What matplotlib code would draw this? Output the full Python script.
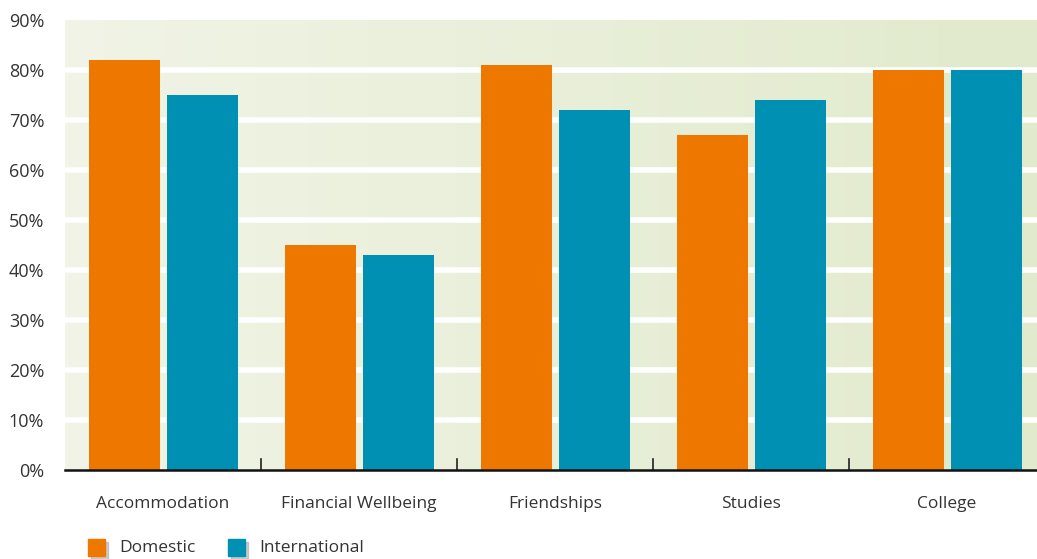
import matplotlib.pyplot as plt
import matplotlib.patches as mpatches
import numpy as np

categories = ['Accommodation', 'Financial Wellbeing', 'Friendships', 'Studies', 'College']
domestic = [82, 45, 81, 67, 80]
international = [75, 43, 72, 74, 80]
yticks = [0, 10, 20, 30, 40, 50, 60, 70, 80, 90]

orange = '#EE7700'
teal = '#0090B4'
text_col = '#333333'

plt.rcParams['font.family'] = ['Open Sans', 'DejaVu Sans']

W, H = 1037, 559
fig = plt.figure(figsize=(W / 100, H / 100), dpi=100)
ax = fig.add_axes([65 / W, (H - 470) / H, (1037 - 65) / W, 450 / H])

# gradient background
grad = np.linspace(0, 1, 256).reshape(1, -1)
c0 = np.array([0xF1, 0xF4, 0xE6]) / 255
c1 = np.array([0xE1, 0xEA, 0xCC]) / 255
img = c0[None, None, :] * (1 - grad[..., None]) + c1[None, None, :] * grad[..., None]
ax.imshow(img, extent=[0, 1, 0, 1], transform=ax.transAxes, aspect='auto', zorder=0)

x = np.arange(len(categories))
width = 0.362
off = 0.199
ax.bar(x - off + 0.004, domestic, width, color=orange, zorder=3, label='Domestic')
ax.bar(x + off + 0.004, international, width, color=teal, zorder=3, label='International')

for v in yticks[1:-1]:
    ax.axhline(v, color='white', lw=4, zorder=1)

ax.set_xlim(-0.5, 4.46)
ax.set_ylim(0, 90)
ax.set_yticks(yticks)
ax.set_yticklabels([f'{v}%' for v in yticks], fontsize=13, color=text_col)
ax.tick_params(axis='y', length=0, pad=15)

ax.set_xticks(x)
ax.set_xticklabels(categories, fontsize=12.5, color=text_col)
ax.tick_params(axis='x', length=0, pad=19)
for b in x[:-1] + 0.5:
    ax.plot([b, b], [0, 2.2], color='#222222', lw=1.2, zorder=4, clip_on=False)

for s in ['top', 'right', 'left']:
    ax.spines[s].set_visible(False)
ax.spines['bottom'].set_color('#111111')
ax.spines['bottom'].set_linewidth(1.8)
ax.spines['bottom'].set_zorder(5)

# legend with shadowed squares
def legend_item(px, label, color):
    sx, sy, sz = px, 539, 17
    fig.patches.append(mpatches.Rectangle(((sx + 3) / W, (H - sy - sz - 3) / H), sz / W, sz / H,
                                          transform=fig.transFigure, color='#AAAAAA', alpha=0.6))
    fig.patches.append(mpatches.Rectangle((sx / W, (H - sy - sz) / H), sz / W, sz / H,
                                          transform=fig.transFigure, color=color))
    fig.text((sx + 31) / W, (H - 548) / H, label, fontsize=12.5, color=text_col, va='center')

legend_item(88, 'Domestic', orange)
legend_item(228, 'International', teal)

fig.savefig('out.png', dpi=100)
